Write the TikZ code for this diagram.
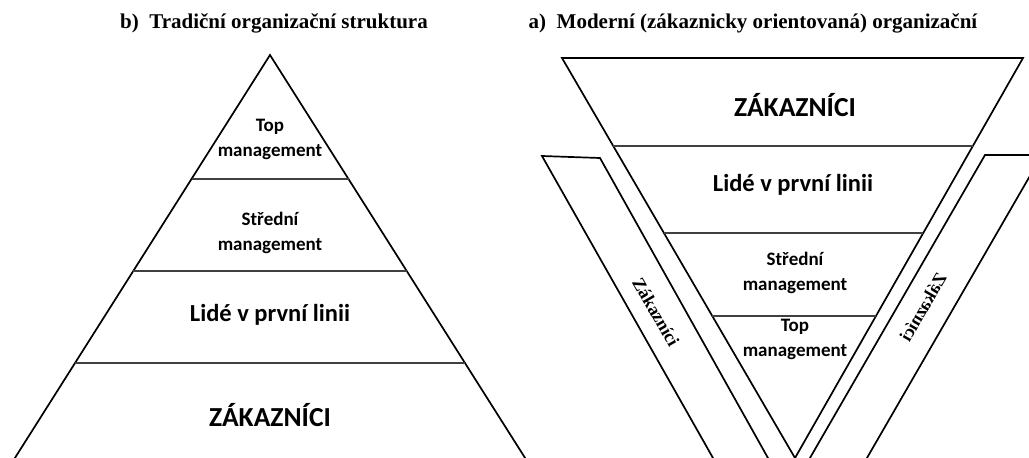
\documentclass[tikz,border=0pt]{standalone}
\usepackage{fontspec}
\setmainfont{Carlito}
\newfontfamily\ttlfont{Liberation Serif}
\begin{document}
\begin{tikzpicture}[x=1pt,y=-1pt,
  outline/.style={line width=1.7pt, line join=miter},
  divider/.style={line width=1.3pt, black!75},
  lbl/.style={inner sep=0pt, align=center, font=\bfseries\fontsize{#1}{#1}\selectfont},
  lbltwo/.style={inner sep=0pt, align=center, font=\bfseries\fontsize{19}{25}\selectfont},
  heading/.style={inner sep=0pt, font=\ttlfont\bfseries\fontsize{21}{24}\selectfont},
  bandtext/.style={inner sep=0pt, font=\ttlfont\bfseries\fontsize{18}{20}\selectfont}]
\useasboundingbox (0,0) rectangle (1029,458);

% headings
\node[heading] (ttlb) at (274,23) {b)\enspace Tradiční organizační struktura};
\node[heading] (ttla) at (753,23) {a)\enspace Moderní (zákaznicky orientovaná) organizační};

\begin{scope}
\clip (0,0) rectangle (1029,458);

% traditional pyramid
\coordinate (pApex) at (270,55);
\coordinate (pBL) at (7.3,470);
\coordinate (pBR) at (532.7,470);
\draw[outline] (pBL) -- (pApex) -- (pBR);
\draw[divider] (191.5,179) -- (348.5,179);
\draw[divider] (133.3,271) -- (406.7,271);
\draw[divider] (75,363) -- (465,363);

% inverted triangle
\coordinate (tTL) at (562,58);
\coordinate (tTR) at (1023,58);
\coordinate (tApex) at (795,458);
\draw[outline] (tApex) -- (tTL) -- (tTR) -- cycle;
\draw[divider] (613.3,146) -- (972.8,146);
\draw[divider] (664,233) -- (923.3,233);
\draw[divider] (712.3,316) -- (876,316);

% customer bands on both sides
\draw[outline] (719.8,470) -- (542,156) -- (600,158) -- (774.7,470);
\draw[outline] (803,470) -- (985,155) -- (1042,155) -- (860,470);
\end{scope}

% pyramid labels
\node[lbltwo] (pTop) at (270,139) {Top\\management};
\node[lbltwo] (pMid) at (270,233) {Střední\\management};
\node[lbl=24.5] (pFront) at (270,315) {Lidé v první linii};
\node[lbl=27.5] (pCust) at (270,415) {ZÁKAZNÍCI};

% inverted triangle labels
\node[lbl=27.5] (tCust) at (795,105) {ZÁKAZNÍCI};
\node[lbl=24.5] (tFront) at (793,185) {Lidé v první linii};
\node[lbltwo] (tMid) at (795,273) {Střední\\management};
\node[lbltwo] (tTop) at (795,339) {Top\\management};

% band labels
\node[bandtext, rotate=-60] (bandL) at (656,312) {Zákazníci};
\node[bandtext, rotate=60, xscale=-1] (bandR) at (923,307) {Zákazníci};
\end{tikzpicture}
\end{document}
